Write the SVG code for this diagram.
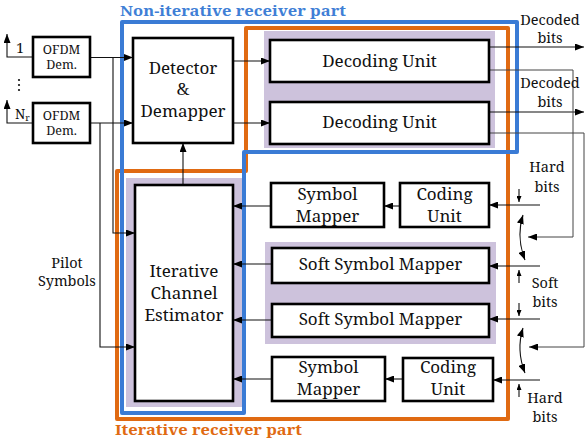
<svg xmlns="http://www.w3.org/2000/svg" width="585" height="441" viewBox="0 0 585 441">
  <style>
    .box { fill: #fff; stroke: #000; stroke-width: 2.6; }
    .shade { fill: #cdc2dc; stroke: none; }
    .wire { fill: none; stroke: #111; stroke-width: 1.1; }
    .fb { fill: none; stroke: #444; stroke-width: 1; }
    .lbl { font-size: 17px; fill: #111; text-anchor: middle; }
    .sm { font-size: 12.5px; fill: #111; text-anchor: middle; }
    .note { font-size: 14.5px; fill: #111; text-anchor: middle; }
    .title { font-size: 15px; font-weight: bold; }
  </style>
  <defs>
    <marker id="arr" markerUnits="userSpaceOnUse" markerWidth="9" markerHeight="7" refX="9" refY="3.5" orient="auto-start-reverse">
      <path d="M0,0 L9,3.5 L0,7 z" fill="#000"/>
    </marker>
    <marker id="arrS" markerUnits="userSpaceOnUse" markerWidth="6" markerHeight="5" refX="6" refY="2.5" orient="auto-start-reverse">
      <path d="M0,0 L6,2.5 L0,5 z" fill="#000"/>
    </marker>
  </defs>

  <g font-family="'Noto Serif', 'Liberation Serif', serif">
  <!-- shaded groupings -->
  <rect class="shade" x="264" y="31" width="231" height="117"/>
  <rect class="shade" x="126" y="178" width="116" height="229"/>
  <rect class="shade" x="265" y="242" width="231" height="102"/>

  <!-- region outlines -->
  <path d="M246,28 H508 V419 H117 V171 H246 Z" fill="none" stroke="#e06a12" stroke-width="4" stroke-linejoin="round"/>
  <path d="M122,22 H517 V152 H244 V413 H122 Z" fill="none" stroke="#3a7bd5" stroke-width="4" stroke-linejoin="round"/>
  <text class="title" x="120" y="16" fill="#3f7fd6" textLength="226" lengthAdjust="spacingAndGlyphs">Non-iterative receiver part</text>
  <text class="title" x="115" y="435" fill="#e06a12" textLength="187" lengthAdjust="spacingAndGlyphs">Iterative receiver part</text>

  <!-- connectors -->
  <g id="connectors">
    <!-- antennas -->
    <path class="wire" d="M33,57 H7 V34" marker-end="url(#arr)"/>
    <path class="wire" d="M33,123 H7 V100" marker-end="url(#arr)"/>
    <!-- OFDM outputs to detector and estimator -->
    <path class="wire" d="M90,57.5 H133" marker-end="url(#arr)"/>
    <path class="wire" d="M90,123 H133" marker-end="url(#arr)"/>
    <path class="wire" d="M113,57.5 V233 H135" marker-end="url(#arr)"/>
    <path class="wire" d="M100,123 V347 H135" marker-end="url(#arr)"/>
    <!-- estimator to detector -->
    <path class="wire" d="M183,185 V143" marker-end="url(#arr)"/>
    <!-- detector to decoders -->
    <path class="wire" d="M233,61 H270" marker-end="url(#arr)"/>
    <path class="wire" d="M233,123 H270" marker-end="url(#arr)"/>
    <!-- decoded bits out -->
    <path class="wire" d="M489,47 H584" marker-end="url(#arr)"/>
    <path class="wire" d="M489,112 H584" marker-end="url(#arr)"/>
    <!-- decoder feedback -->
    <path class="fb" d="M489,70 H573 V237 H528" marker-end="url(#arr)"/>
    <path class="fb" d="M489,133 H584 V347 H529" marker-end="url(#arr)"/>
    <!-- switch inputs -->
    <path class="wire" d="M540,205 H489" marker-end="url(#arr)"/>
    <path class="wire" d="M540,266 H489" marker-end="url(#arr)"/>
    <path class="wire" d="M540,319 H489" marker-end="url(#arr)"/>
    <path class="wire" d="M540,380 H493" marker-end="url(#arr)"/>
    <!-- switch selectors -->
    <path class="wire" d="M523,215 Q516,237 525,260" marker-start="url(#arr)" marker-end="url(#arr)"/>
    <path class="wire" d="M523,328 Q516,350 525,373" marker-start="url(#arr)" marker-end="url(#arr)"/>
    <path class="wire" d="M519,189 V202" marker-end="url(#arrS)"/>
    <path class="wire" d="M519,283 V270" marker-end="url(#arrS)"/>
    <path class="wire" d="M519,303 V316" marker-end="url(#arrS)"/>
    <path class="wire" d="M519,397 V384" marker-end="url(#arrS)"/>
    <!-- mappers to estimator -->
    <path class="wire" d="M400,206 H384" marker-end="url(#arr)"/>
    <path class="wire" d="M271,206 H233" marker-end="url(#arr)"/>
    <path class="wire" d="M272,264 H233" marker-end="url(#arr)"/>
    <path class="wire" d="M272,320 H233" marker-end="url(#arr)"/>
    <path class="wire" d="M403,379 H385" marker-end="url(#arr)"/>
    <path class="wire" d="M272,379 H233" marker-end="url(#arr)"/>
  </g>

  <!-- antenna labels -->
  <text class="note" x="20" y="53" font-size="13.5">1</text>
  <text x="15" y="119" font-size="13.5" fill="#111">N<tspan font-size="9.5" dy="2">r</tspan></text>
  <g fill="#111">
    <circle cx="19" cy="80" r="1.1"/>
    <circle cx="19" cy="85" r="1.1"/>
    <circle cx="19" cy="90" r="1.1"/>
  </g>

  <g id="ofdm1">
    <rect class="box" x="33" y="37" width="57" height="40"/>
    <text class="sm" x="61.5" y="54">OFDM</text>
    <text class="sm" x="61.5" y="69">Dem.</text>
  </g>
  <g id="ofdm2">
    <rect class="box" x="33" y="103" width="57" height="40"/>
    <text class="sm" x="61.5" y="120">OFDM</text>
    <text class="sm" x="61.5" y="135">Dem.</text>
  </g>

  <g id="detector">
    <rect class="box" x="133" y="38" width="100" height="105"/>
    <text class="lbl" x="183" y="74">Detector</text>
    <text class="lbl" x="183" y="95">&amp;</text>
    <text class="lbl" x="183" y="117">Demapper</text>
  </g>

  <g id="decoder1">
    <rect class="box" x="270" y="40" width="219" height="42"/>
    <text class="lbl" x="379.5" y="67">Decoding Unit</text>
  </g>
  <g id="decoder2">
    <rect class="box" x="270" y="102" width="219" height="42"/>
    <text class="lbl" x="379.5" y="128">Decoding Unit</text>
  </g>

  <g id="estimator">
    <rect class="box" x="135" y="185" width="98" height="216"/>
    <text class="lbl" x="184" y="277">Iterative</text>
    <text class="lbl" x="184" y="299">Channel</text>
    <text class="lbl" x="184" y="321">Estimator</text>
  </g>

  <g id="symbol-mapper1">
    <rect class="box" x="271" y="183" width="113" height="44"/>
    <text class="lbl" x="327.5" y="200">Symbol</text>
    <text class="lbl" x="327.5" y="222">Mapper</text>
  </g>
  <g id="coding-unit1">
    <rect class="box" x="400" y="183" width="89" height="44"/>
    <text class="lbl" x="444.5" y="200">Coding</text>
    <text class="lbl" x="444.5" y="222">Unit</text>
  </g>

  <g id="soft-mapper1">
    <rect class="box" x="272" y="248" width="217" height="35"/>
    <text class="lbl" x="380.5" y="270">Soft Symbol Mapper</text>
  </g>
  <g id="soft-mapper2">
    <rect class="box" x="272" y="304" width="217" height="33"/>
    <text class="lbl" x="380.5" y="325">Soft Symbol Mapper</text>
  </g>

  <g id="symbol-mapper2">
    <rect class="box" x="272" y="357" width="113" height="44"/>
    <text class="lbl" x="328.5" y="373">Symbol</text>
    <text class="lbl" x="328.5" y="395">Mapper</text>
  </g>
  <g id="coding-unit2">
    <rect class="box" x="403" y="358" width="90" height="43"/>
    <text class="lbl" x="448" y="373">Coding</text>
    <text class="lbl" x="448" y="395">Unit</text>
  </g>

  <!-- side notes -->
  <text class="note" x="550" y="25">Decoded</text>
  <text class="note" x="550" y="43">bits</text>
  <text class="note" x="550" y="88">Decoded</text>
  <text class="note" x="550" y="107">bits</text>
  <text class="note" x="547" y="172">Hard</text>
  <text class="note" x="547" y="192">bits</text>
  <text class="note" x="545" y="288">Soft</text>
  <text class="note" x="545" y="307">bits</text>
  <text class="note" x="545" y="403">Hard</text>
  <text class="note" x="545" y="422">bits</text>
  <text class="note" x="67" y="268">Pilot</text>
  <text class="note" x="67" y="286">Symbols</text>
  </g>
</svg>
